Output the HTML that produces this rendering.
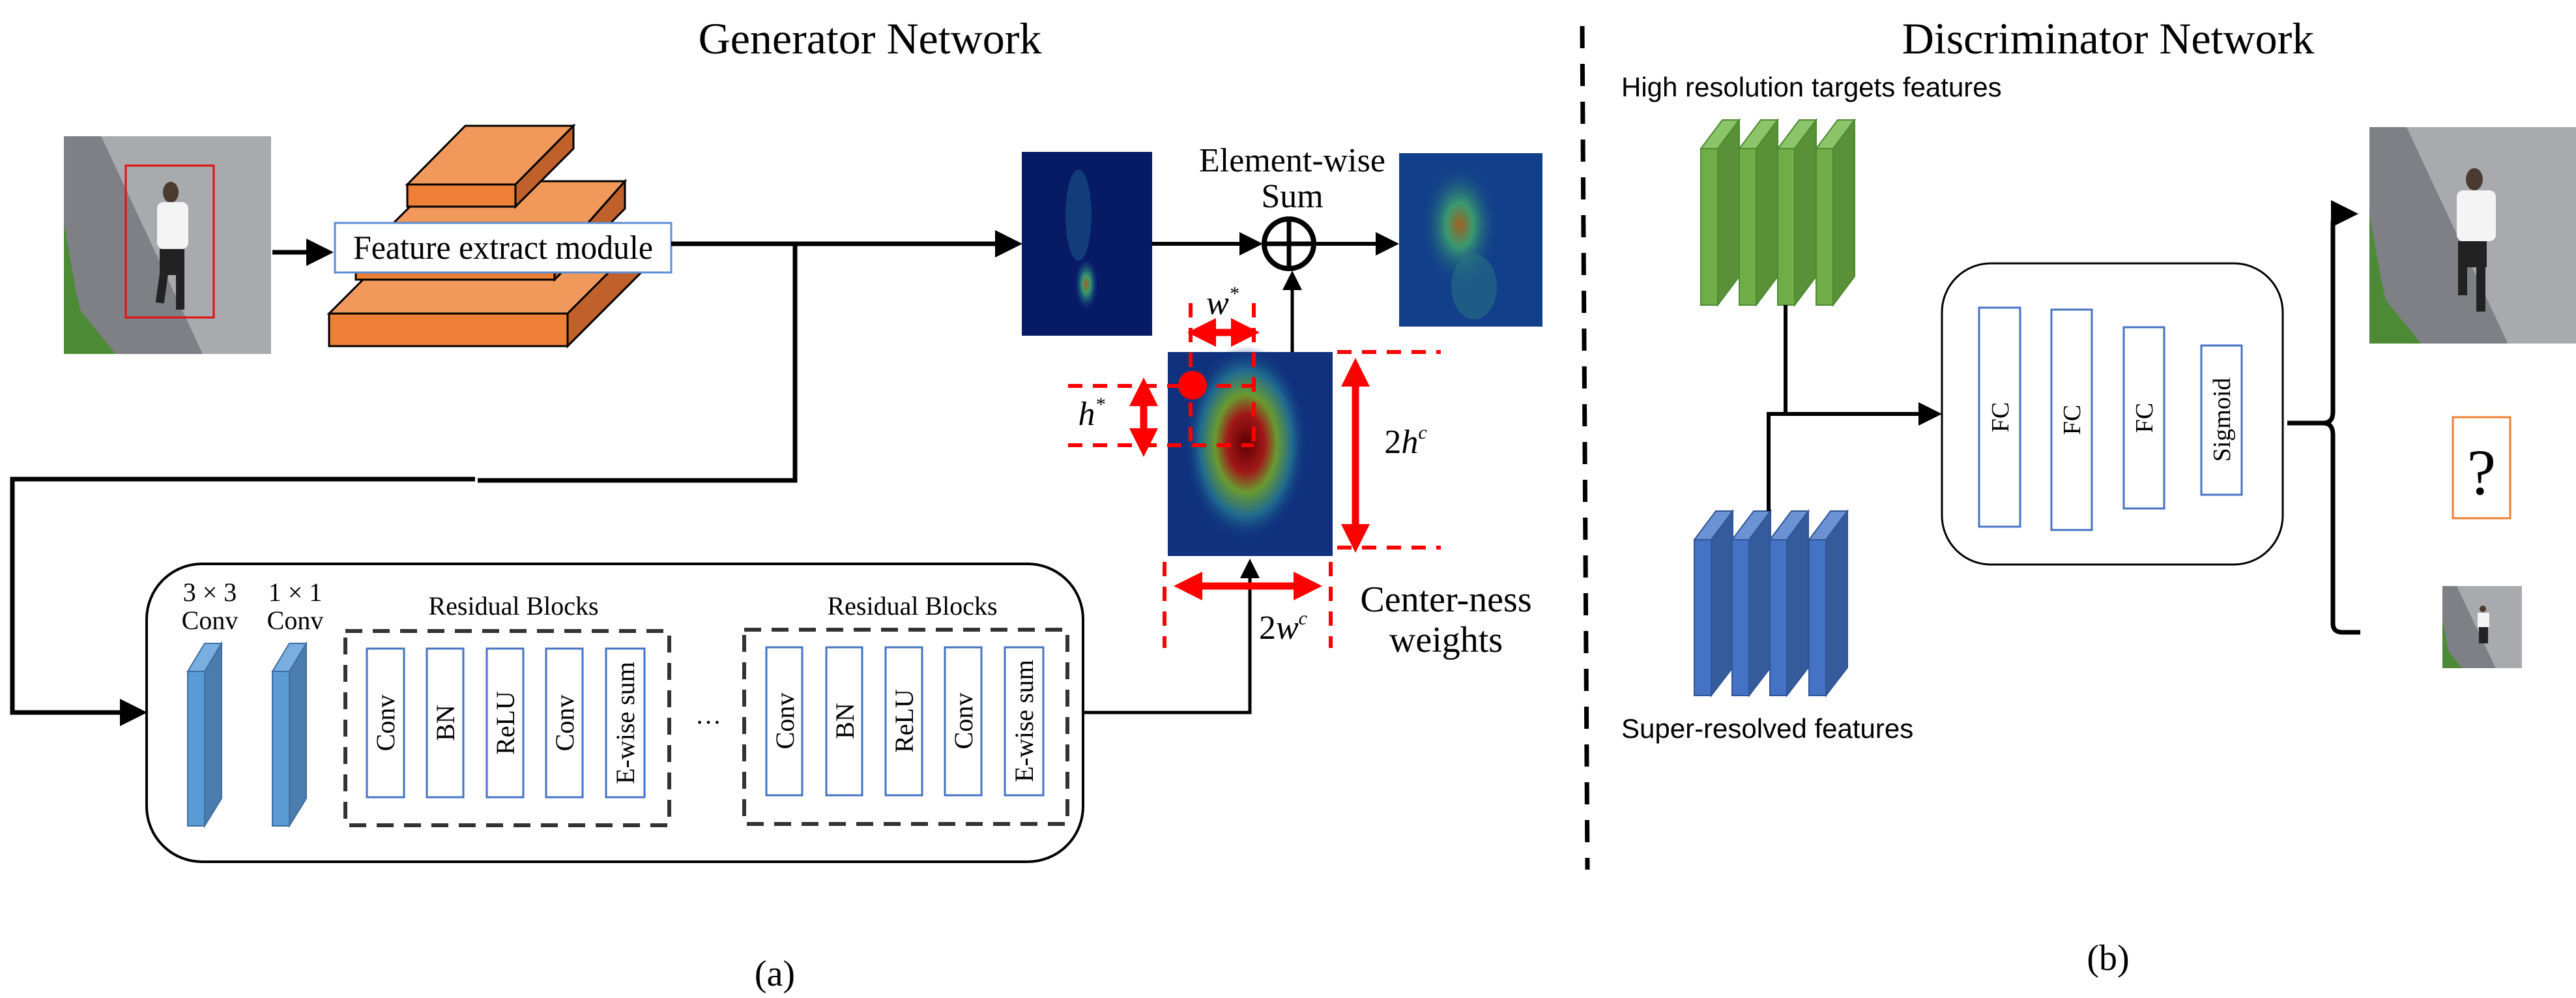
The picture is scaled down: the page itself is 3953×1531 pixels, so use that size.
<!DOCTYPE html>
<html><head><meta charset="utf-8"><style>
html,body{margin:0;padding:0;background:#fff;}
svg{display:block;}
text{font-family:"Liberation Serif",serif;fill:#000;}
.s{font-family:"Liberation Sans",sans-serif;}
</style></head><body>
<svg width="3953" height="1531" viewBox="0 0 3953 1531" xmlns="http://www.w3.org/2000/svg">
<defs>
<marker id="ak" markerWidth="6" markerHeight="6" refX="5" refY="3" orient="auto" markerUnits="strokeWidth"><path d="M0,0 L6,3 L0,6 z" fill="#000"/></marker>
<marker id="ar" markerWidth="4" markerHeight="4" refX="3" refY="2" orient="auto-start-reverse" markerUnits="strokeWidth"><path d="M0,0 L4,2 L0,4 z" fill="#f00"/></marker>
<radialGradient id="h1" cx="0.75" cy="0.5" r="0.5"><stop offset="0" stop-color="#c8a020"/><stop offset="0.15" stop-color="#3a9a80"/><stop offset="0.5" stop-color="#0a2a7a" stop-opacity="0"/></radialGradient>
<radialGradient id="h2" cx="0.5" cy="0.5" r="0.5"><stop offset="0" stop-color="#a06020"/><stop offset="0.35" stop-color="#3a9a70"/><stop offset="1" stop-color="#123f8a" stop-opacity="0"/></radialGradient>
<radialGradient id="h3" cx="0.5" cy="0.5" r="0.5"><stop offset="0" stop-color="#600000"/><stop offset="0.3" stop-color="#a01818"/><stop offset="0.5" stop-color="#6a9a30"/><stop offset="0.75" stop-color="#1f6a90"/><stop offset="1" stop-color="#10327e" stop-opacity="0"/></radialGradient>
<g id="walk">
<rect x="0" y="0" width="100" height="100" fill="#a9aaad"/>
<polygon points="0,0 18,0 67,100 0,100" fill="#7e8086"/>
<polygon points="0,80 0,100 25,100 8,80" fill="#4d8a36"/>
<polygon points="0,40 0,80 8,80 6,72" fill="#4d8a36"/>
</g>
</defs>

<!-- Titles -->
<text x="1335" y="82" font-size="68" text-anchor="middle">Generator Network</text>
<text x="3235" y="82" font-size="68" text-anchor="middle">Discriminator Network</text>

<!-- Person image -->
<svg x="98" y="209" width="318" height="334" viewBox="0 0 100 100" preserveAspectRatio="none"><use href="#walk"/></svg>
<ellipse cx="262" cy="295" rx="12" ry="16" fill="#4a3a30"/>
<rect x="241" y="310" width="48" height="72" rx="10" fill="#f4f4f4"/>
<rect x="245" y="382" width="38" height="40" fill="#222"/>
<rect x="245" y="420" width="13" height="45" fill="#222" transform="rotate(8 251 420)"/>
<rect x="270" y="420" width="13" height="55" fill="#222"/>
<rect x="193" y="254" width="135" height="233" fill="none" stroke="#e01010" stroke-width="3"/>
<line x1="418" y1="387" x2="505" y2="387" stroke="#000" stroke-width="7" marker-end="url(#ak)"/>

<!-- Orange blocks -->
<g stroke="#000" stroke-width="3">
<polygon points="505,481 626,360 992,360 871,481" fill="#f0995a"/>
<polygon points="871,481 992,360 992,410 871,531" fill="#c0602a"/>
<rect x="505" y="481" width="366" height="50" fill="#ee7f36"/>
<polygon points="546,400 668,278 959,278 851,400" fill="#f0995a"/>
<polygon points="851,400 959,278 959,320 851,429" fill="#c0602a"/>
<rect x="546" y="400" width="305" height="29" fill="#ee7f36"/>
<polygon points="625,283 714,193 880,193 791,283" fill="#f0995a"/>
<polygon points="791,283 880,193 880,228 791,317" fill="#c0602a"/>
<rect x="625" y="283" width="166" height="34" fill="#ee7f36"/>
</g>
<rect x="514" y="342" width="516" height="76" fill="#fff" stroke="#5b8ed6" stroke-width="3"/>
<text x="772" y="397" font-size="52" text-anchor="middle" textLength="460" lengthAdjust="spacingAndGlyphs">Feature extract module</text>

<!-- Main lines -->
<g stroke="#000" stroke-width="7" fill="none">
<line x1="1030" y1="374" x2="1562" y2="374" marker-end="url(#ak)"/>
<polyline points="1220,374 1220,737 733,737"/>
<polyline points="729,735 19,735 19,1093 219,1093" marker-end="url(#ak)"/>
<line x1="1768" y1="374" x2="1932" y2="374" stroke-width="6" marker-end="url(#ak)"/>
<line x1="2020" y1="374" x2="2141" y2="374" stroke-width="6" marker-end="url(#ak)"/>
<line x1="1983" y1="540" x2="1983" y2="420" stroke-width="5" marker-end="url(#ak)"/>
<polyline points="1662,1093 1918,1093 1918,862" stroke-width="5" marker-end="url(#ak)"/>
</g>
<circle cx="1978" cy="374" r="38" fill="#fff" stroke="#000" stroke-width="8"/>
<line x1="1940" y1="374" x2="2016" y2="374" stroke="#000" stroke-width="7"/>
<line x1="1978" y1="336" x2="1978" y2="412" stroke="#000" stroke-width="7"/>
<text x="1983" y="263" font-size="52" text-anchor="middle">Element-wise</text>
<text x="1983" y="318" font-size="52" text-anchor="middle">Sum</text>

<!-- Heatmaps -->
<rect x="1568" y="233" width="200" height="282" fill="#061a66"/>
<ellipse cx="1667" cy="436" rx="18" ry="40" fill="url(#h2)"/>
<ellipse cx="1655" cy="330" rx="20" ry="70" fill="#1f5a8a" opacity="0.55"/>
<rect x="2147" y="235" width="220" height="266" fill="#123f8a"/>
<ellipse cx="2240" cy="345" rx="60" ry="95" fill="url(#h2)"/>
<ellipse cx="2262" cy="440" rx="35" ry="50" fill="#2a7a80" opacity="0.5"/>
<rect x="1792" y="540" width="253" height="313" fill="#10327e"/>
<ellipse cx="1912" cy="680" rx="95" ry="150" fill="url(#h3)"/>

<!-- Red annotations -->
<g stroke="#f00" stroke-width="6" stroke-dasharray="22,16" fill="none">
<line x1="1827" y1="465" x2="1827" y2="684"/>
<line x1="1924" y1="465" x2="1924" y2="684"/>
<line x1="1639" y1="592" x2="1924" y2="592"/>
<line x1="1639" y1="683" x2="1924" y2="683"/>
<line x1="2052" y1="540" x2="2211" y2="540"/>
<line x1="2052" y1="840" x2="2211" y2="840"/>
<line x1="1787" y1="862" x2="1787" y2="994"/>
<line x1="2042" y1="862" x2="2042" y2="994"/>
</g>
<g stroke="#f00" stroke-width="11" fill="none">
<line x1="1833" y1="510" x2="1922" y2="510" marker-start="url(#ar)" marker-end="url(#ar)"/>
<line x1="1755" y1="590" x2="1755" y2="690" marker-start="url(#ar)" marker-end="url(#ar)"/>
<line x1="2080" y1="560" x2="2080" y2="837" marker-start="url(#ar)" marker-end="url(#ar)"/>
<line x1="1812" y1="899" x2="2018" y2="899" marker-start="url(#ar)" marker-end="url(#ar)"/>
</g>
<circle cx="1830" cy="591" r="22" fill="#f00"/>
<text x="1876" y="482" font-size="52" font-style="italic" text-anchor="middle">w<tspan font-size="30" dy="-22">*</tspan></text>
<text x="1675" y="652" font-size="52" font-style="italic" text-anchor="middle">h<tspan font-size="30" dy="-22">*</tspan></text>
<text x="2157" y="695" font-size="52" text-anchor="middle">2<tspan font-style="italic">h</tspan><tspan font-style="italic" font-size="30" dy="-22">c</tspan></text>
<text x="1969" y="980" font-size="52" text-anchor="middle">2<tspan font-style="italic">w</tspan><tspan font-style="italic" font-size="30" dy="-22">c</tspan></text>
<text x="2219" y="938" font-size="56" text-anchor="middle">Center-ness</text>
<text x="2219" y="1000" font-size="56" text-anchor="middle">weights</text>

<!-- Generator residual box -->
<rect x="225" y="865" width="1437" height="457" rx="85" fill="#fff" stroke="#000" stroke-width="4"/>
<text x="322" y="922" font-size="40" text-anchor="middle">3 × 3</text>
<text x="322" y="965" font-size="40" text-anchor="middle">Conv</text>
<text x="453" y="922" font-size="40" text-anchor="middle">1 × 1</text>
<text x="453" y="965" font-size="40" text-anchor="middle">Conv</text>
<g stroke="#3f6ea0" stroke-width="2">
<polygon points="288,1030 314,987 340,987 314,1030" fill="#7aaee0"/>
<polygon points="314,1030 340,987 340,1225 314,1267" fill="#4a7cae"/>
<rect x="288" y="1030" width="26" height="237" fill="#5b9bd5"/>
<polygon points="418,1030 444,987 470,987 444,1030" fill="#7aaee0"/>
<polygon points="444,1030 470,987 470,1225 444,1267" fill="#4a7cae"/>
<rect x="418" y="1030" width="26" height="237" fill="#5b9bd5"/>
</g>
<g stroke="#333" stroke-width="6" stroke-dasharray="26,16" fill="none">
<rect x="530" y="968" width="497" height="298"/>
<rect x="1142" y="966" width="496" height="298"/>
</g>
<text x="788" y="943" font-size="40" text-anchor="middle">Residual Blocks</text>
<text x="1400" y="943" font-size="40" text-anchor="middle">Residual Blocks</text>
<text x="1087" y="1110" font-size="40" text-anchor="middle">…</text>
<g fill="#fff" stroke="#4472c4" stroke-width="3">
<rect x="563" y="995" width="57" height="228"/><rect x="655" y="995" width="56" height="228"/><rect x="747" y="995" width="56" height="228"/><rect x="838" y="995" width="56" height="228"/><rect x="930" y="995" width="59" height="228"/>
<rect x="1176" y="993" width="55" height="227"/><rect x="1268" y="993" width="55" height="227"/><rect x="1359" y="993" width="56" height="227"/><rect x="1450" y="993" width="56" height="227"/><rect x="1542" y="993" width="59" height="227"/>
</g>
<g font-size="40" text-anchor="middle">
<text transform="translate(605,1109) rotate(-90)">Conv</text>
<text transform="translate(697,1109) rotate(-90)">BN</text>
<text transform="translate(789,1109) rotate(-90)">ReLU</text>
<text transform="translate(880,1109) rotate(-90)">Conv</text>
<text transform="translate(973,1109) rotate(-90)">E-wise sum</text>
<text transform="translate(1218,1106) rotate(-90)">Conv</text>
<text transform="translate(1310,1106) rotate(-90)">BN</text>
<text transform="translate(1401,1106) rotate(-90)">ReLU</text>
<text transform="translate(1492,1106) rotate(-90)">Conv</text>
<text transform="translate(1585,1106) rotate(-90)">E-wise sum</text>
</g>
<text x="1189" y="1512" font-size="56" text-anchor="middle">(a)</text>

<!-- Divider -->
<line x1="2428" y1="40" x2="2436" y2="1334" stroke="#000" stroke-width="7" stroke-dasharray="34,24"/>

<!-- Discriminator -->
<text class="s" x="2488" y="148" font-size="42">High resolution targets features</text>
<text class="s" x="2488" y="1132" font-size="42">Super-resolved features</text>
<g stroke="#4a8a30" stroke-width="2">
<g id="gs">
<polygon points="2610,228 2643,184 2669,184 2636,228" fill="#8cc46a"/>
<polygon points="2636,228 2669,184 2669,424 2636,468" fill="#5a9038"/>
<rect x="2610" y="228" width="26" height="240" fill="#70ad47"/>
</g>
<use href="#gs" x="59"/><use href="#gs" x="118"/><use href="#gs" x="177"/>
</g>
<g stroke="#2f5597" stroke-width="2">
<g id="bs">
<polygon points="2600,828 2633,784 2659,784 2626,828" fill="#6a92d4"/>
<polygon points="2626,828 2659,784 2659,1024 2626,1067" fill="#345c9c"/>
<rect x="2600" y="828" width="26" height="239" fill="#4472c4"/>
</g>
<use href="#bs" x="58"/><use href="#bs" x="116"/><use href="#bs" x="176"/>
</g>
<g stroke="#000" stroke-width="6" fill="none">
<line x1="2740" y1="468" x2="2740" y2="635"/>
<polyline points="2714,784 2714,635 2974,635" marker-end="url(#ak)"/>
</g>
<rect x="2980" y="404" width="523" height="462" rx="75" fill="#fff" stroke="#000" stroke-width="3"/>
<g fill="#fff" stroke="#4472c4" stroke-width="3">
<rect x="3037" y="472" width="63" height="336"/>
<rect x="3148" y="475" width="62" height="338"/>
<rect x="3259" y="502" width="62" height="278"/>
<rect x="3378" y="530" width="62" height="229"/>
</g>
<g font-size="38" text-anchor="middle">
<text transform="translate(3082,640) rotate(-90)">FC</text>
<text transform="translate(3192,644) rotate(-90)">FC</text>
<text transform="translate(3303,641) rotate(-90)">FC</text>
<text transform="translate(3422,644) rotate(-90)">Sigmoid</text>
</g>
<path d="M3510,649 L3565,649 Q3580,649 3580,632 L3580,342 Q3580,328 3595,328 L3612,328" stroke="#000" stroke-width="7" fill="none" marker-end="url(#ak)"/>
<path d="M3565,649 Q3580,649 3580,667 L3580,957 Q3580,970 3595,970 L3622,970" stroke="#000" stroke-width="7" fill="none"/>
<svg x="3636" y="195" width="317" height="332" viewBox="0 0 100 100" preserveAspectRatio="none"><use href="#walk"/></svg>
<ellipse cx="3797" cy="275" rx="13" ry="17" fill="#4a3a30"/>
<rect x="3770" y="292" width="60" height="78" rx="10" fill="#f4f4f4"/>
<rect x="3772" y="370" width="44" height="40" fill="#222"/>
<rect x="3772" y="408" width="14" height="45" fill="#222"/>
<rect x="3800" y="408" width="14" height="70" fill="#222"/>
<rect x="3764" y="640" width="88" height="155" fill="#fff" stroke="#ed7d31" stroke-width="3"/>
<text x="3808" y="758" font-size="100" text-anchor="middle">?</text>
<svg x="3748" y="899" width="122" height="126" viewBox="0 0 100 100" preserveAspectRatio="none"><use href="#walk"/></svg>
<circle cx="3810" cy="934" r="5" fill="#4a3a30"/>
<rect x="3802" y="940" width="18" height="22" fill="#f4f4f4"/>
<rect x="3804" y="962" width="14" height="25" fill="#222"/>
<text x="3235" y="1488" font-size="56" text-anchor="middle">(b)</text>
</svg>
</body></html>
